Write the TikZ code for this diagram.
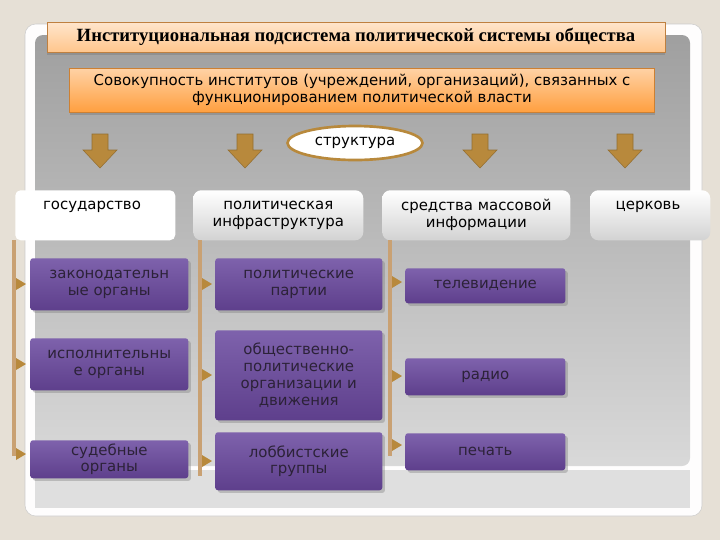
\documentclass[tikz,border=0pt]{standalone}
\usepackage{fontspec}
\setmainfont{DejaVu Sans}
\newfontfamily\titlefont{Liberation Serif}
\usetikzlibrary{shapes.geometric,shadows}
\definecolor{bg}{HTML}{E6E0D6}
\definecolor{tan}{HTML}{B8893C}
\definecolor{tanl}{HTML}{C9A173}
\definecolor{purp}{HTML}{5E3F8C}
\definecolor{purpl}{HTML}{7E62AC}
\definecolor{ptxt}{HTML}{2C2238}
\tikzset{
  every node/.style={font=\fontsize{11.2pt}{12.6pt}\selectfont, align=center},
  pbox/.style={draw=none, top color=purpl, bottom color=purp, text=ptxt, rounded corners=2pt, drop shadow={opacity=0.4,shadow xshift=2pt,shadow yshift=-2pt}},
  hbox/.style={rounded corners=6pt, top color=white, bottom color=gray!35, text=black},
  darr/.style={fill=tan, draw=tan!80!black},
  vline/.style={draw=tanl, line width=3pt},
  tip/.style={fill=tan},
}
\begin{document}
\begin{tikzpicture}[x=0.75pt,y=-0.75pt]
\useasboundingbox (0,0) rectangle (720,540);
\fill[bg] (0,0) rectangle (720,540);
\fill[white!95!bg, rounded corners=8pt, draw=gray!40] (25,24) rectangle (702,516);
\fill[gray!25] (35,470) rectangle (690,508);
\shade[top color=gray!75, bottom color=gray!30, rounded corners=6pt] (35,35) rectangle (690,466);
% title
\node[minimum width=618*0.75pt, minimum height=30*0.75pt, top color=orange!20!white, bottom color=orange!45!white, draw=orange!50!gray, drop shadow={opacity=0.5,shadow xshift=0pt,shadow yshift=-2pt}, inner sep=0pt] (title) at (356,37)
  {\titlefont\bfseries\fontsize{14pt}{15pt}\selectfont Институциональная подсистема политической системы общества};
\node[minimum width=585*0.75pt, minimum height=44*0.75pt, top color=orange!35!white, bottom color=orange!75!white, draw=orange!60!gray, drop shadow={opacity=0.5,shadow xshift=0pt,shadow yshift=-2pt}, inner sep=0pt] (def) at (362,90)
  {Совокупность институтов (учреждений, организаций), связанных с\\функционированием политической власти};
\node[ellipse, draw=tan, line width=2pt, fill=white, minimum width=135*0.75pt, minimum height=34*0.75pt] (str) at (355,143) {структура};
% down arrows
\foreach \x/\n in {100/a1,245/a2,480/a3,625/a4}{
  \fill[darr] (\x-8,134) -- (\x+8,134) -- (\x+8,150) -- (\x+17,150) -- (\x,168) -- (\x-17,150) -- (\x-8,150) -- cycle;
}
% headers
\node[fill=white, rounded corners=4pt, minimum width=160*0.75pt, minimum height=50*0.75pt, anchor=north west, text=black, inner sep=0pt] (h1) at (15,190) {};
\node at (92,207) {государство};
\node[hbox, minimum width=170*0.75pt, minimum height=50*0.75pt, anchor=north west, inner sep=0pt] (h2) at (193,190) {политическая\\инфраструктура};
\node[hbox, minimum width=188*0.75pt, minimum height=50*0.75pt, anchor=north west, inner sep=0pt] (h3) at (382,190) {средства массовой\\информации};
\node[hbox, minimum width=120*0.75pt, minimum height=50*0.75pt, anchor=north west, inner sep=0pt] (h4) at (590,190) {};
\node at (648,207) {церковь};
% vertical lines
\coordinate (l1t) at (14,240); \coordinate (l1b) at (14,456);
\coordinate (l2t) at (200,240); \coordinate (l2b) at (200,476);
\coordinate (l3t) at (390,240); \coordinate (l3b) at (390,456);
\draw[vline] (l1t) -- (l1b); \draw[vline] (l2t) -- (l2b); \draw[vline] (l3t) -- (l3b);
% purple boxes
\newcommand{\pb}[6]{\node[pbox, minimum width=#4*0.75pt, minimum height=#5*0.75pt, anchor=north west, inner sep=1pt] (#1) at (#2,#3) {#6};}
\pb{b1}{30}{258}{158}{52}{законодательн\\ые органы}
\pb{b2}{30}{338}{158}{52}{исполнительны\\е органы}
\pb{b3}{30}{440}{158}{38}{судебные\\органы}
\pb{c1}{215}{258}{167}{52}{политические\\партии}
\pb{c2}{215}{330}{167}{90}{общественно-\\политические\\организации и\\движения}
\pb{c3}{215}{432}{167}{58}{лоббистские\\группы}
\pb{d1}{405}{268}{160}{35}{телевидение}
\pb{d2}{405}{358}{160}{37}{радио}
\pb{d3}{405}{433}{160}{37}{печать}
% small arrow tips
\foreach \x/\y in {14/284,14/364,14/454,200/284,200/375,200/461,390/282,390/376,390/445}{
  \fill[tip] (\x+2,\y-6) -- (\x+12,\y) -- (\x+2,\y+6) -- cycle;
}
\end{tikzpicture}
\end{document}
